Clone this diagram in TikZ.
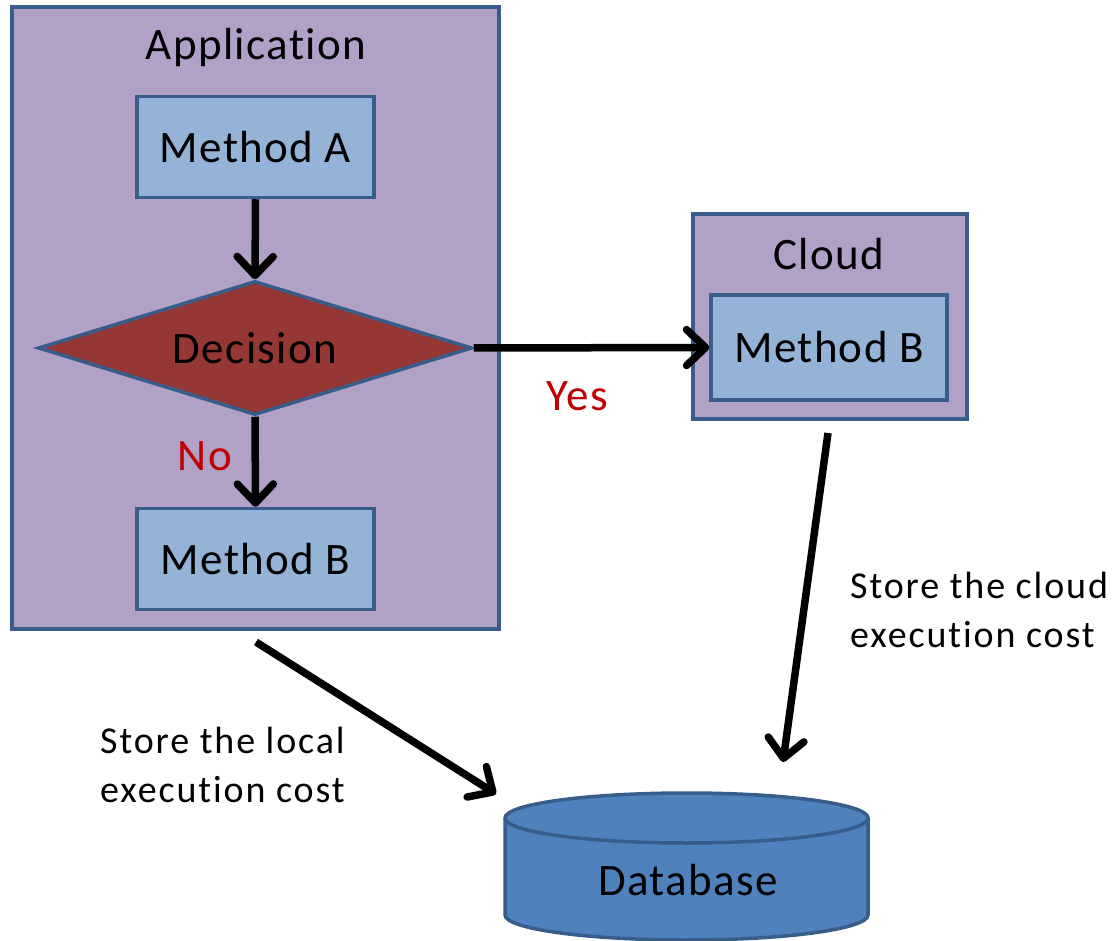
\documentclass[tikz,border=0pt]{standalone}
\usepackage{fontspec}
\setmainfont[Ligatures=NoCommon]{Carlito}
\newfontfamily\boxfont[LetterSpace=3,Ligatures=NoCommon]{Carlito}
\newfontfamily\notefont[LetterSpace=5,Ligatures=NoCommon]{Carlito}
\usetikzlibrary{arrows.meta,shapes.geometric}
\definecolor{edgeblue}{RGB}{56,93,138}
\definecolor{lavender}{RGB}{178,161,199}
\definecolor{methodblue}{RGB}{149,179,215}
\definecolor{decisionred}{RGB}{149,55,53}
\definecolor{dbblue}{RGB}{79,129,189}
\definecolor{labelred}{RGB}{192,0,0}
\begin{document}
\begin{tikzpicture}[x=1pt,y=-1pt,
  every node/.style={font=\boxfont\fontsize{45}{54}\selectfont, inner sep=0pt},
  container/.style={draw=edgeblue, fill=lavender, line width=3.5pt},
  method/.style={draw=edgeblue, fill=methodblue, line width=3.5pt,
                 minimum width=237pt, minimum height=101pt},
  decision/.style={diamond, draw=edgeblue, fill=decisionred, line width=3.5pt,
                   aspect=3.2, minimum width=434pt, minimum height=134pt},
  flow/.style={draw=black, line width=7.5pt,
               -{Straight Barb[length=19pt,width=36pt,line cap=round,line join=round]}},
  answer/.style={text=labelred},
  note/.style={align=left, anchor=north west, font=\notefont\fontsize{38}{49}\selectfont},
]
\useasboundingbox (0,0) rectangle (1117,941);

% Application container with its flow
\node[container, minimum width=487pt, minimum height=622pt] (app) at (255.5,318) {};
\node[anchor=base] (apptitle) at (256,60) {Application};
\node[method] (ma) at (255.5,147) {Method A};
\node[decision] (dec) at (255,348) {Decision};
\node[method] (mbl) at (255.5,559) {Method B};

% Cloud container
\node[container, minimum width=274pt, minimum height=205pt] (cloud) at (830,316.5) {};
\node[anchor=base] (cloudtitle) at (829,270) {Cloud};
\node[method, minimum width=236pt, minimum height=105pt] (mbc) at (829,347.5) {Method B};

% Database cylinder
\path[draw=edgeblue, fill=dbblue, line width=3.5pt]
  (505,818) -- (505,915) arc[start angle=180, end angle=0, x radius=181.5, y radius=25]
  -- (868,818) arc[start angle=360, end angle=180, x radius=181.5, y radius=25] -- cycle;
\draw[edgeblue, line width=3.5pt]
  (505,818) arc[start angle=180, end angle=0, x radius=181.5, y radius=25];
\node (db) at (688,880) {Database};

% Flow connectors
\draw[flow] (ma.south) -- (dec.north);
\draw[flow] (dec.south) -- (mbl.north);
\draw[flow] (dec.east) -- (mbc.west);
\node[answer] (no) at (205,456) {No};
\node[answer] (yes) at (577,396) {Yes};

% Cost reporting connectors
\coordinate (localstart) at (256,642);
\coordinate (localend) at (496,794);
\coordinate (cloudstart) at (828,433);
\coordinate (cloudend) at (783,762);
\draw[flow] (localstart) -- (localend);
\draw[flow] (cloudstart) -- (cloudend);
\node[note] (localnote) at (100,727) {Store the local\\execution cost};
\node[note] (cloudnote) at (850,572) {Store the cloud\\execution cost};
\end{tikzpicture}
\end{document}
